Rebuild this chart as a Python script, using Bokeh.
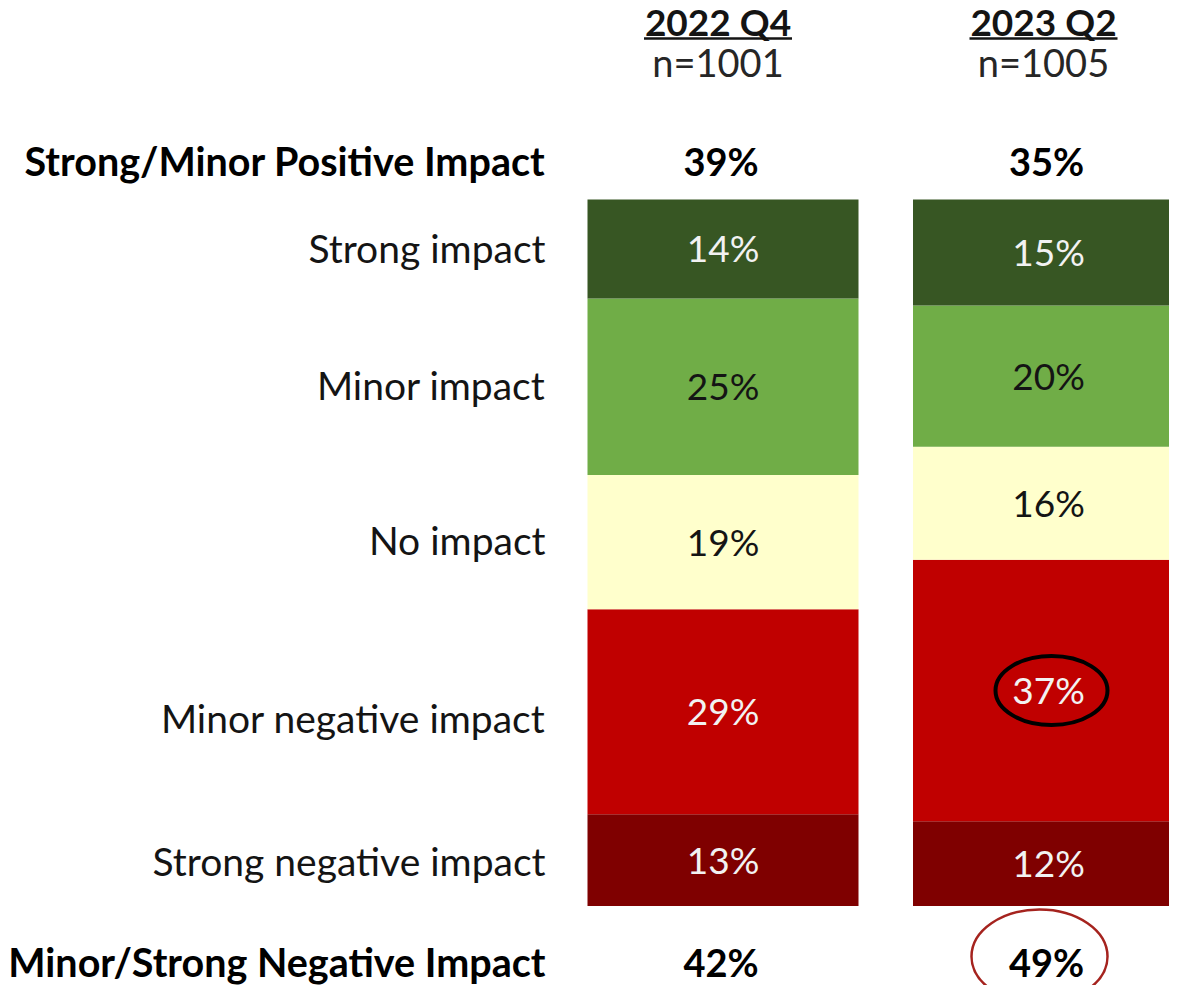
from bokeh.plotting import figure
from bokeh.models import Range1d, ColumnDataSource
from bokeh.embed import file_html
from bokeh.resources import INLINE
from bokeh.core.properties import value

# ---------------- data ----------------
periods = ["2022 Q4", "2023 Q2"]
sample_sizes = ["n=1001", "n=1005"]
categories = ["Strong impact", "Minor impact", "No impact",
              "Minor negative impact", "Strong negative impact"]
strong_impact = [14, 15]
minor_impact = [25, 20]
no_impact = [19, 16]
minor_negative = [29, 37]
strong_negative = [13, 12]
net_positive = [39, 35]
net_negative = [42, 49]
net_positive_label = "Strong/Minor Positive Impact"
net_negative_label = "Minor/Strong Negative Impact"

# ---------------- layout helpers ----------------
W, H = 1169, 985
PX_PER_PCT = 7.065
BAR_BOTTOM_PX = 905.5          # pixel (from top) of the 0 % line


def y_of(px):                  # pixel (from top) -> data y
    return (BAR_BOTTOM_PX - px) / PX_PER_PCT


col_x = [722.5, 1048.0]
head_x = [c - 5 for c in col_x]
bar_w = 271
FONT = value("Lato")
INK = "#141414"

p = figure(width=W, height=H, output_backend="svg", toolbar_location=None,
           x_range=Range1d(0, W), y_range=Range1d(y_of(H), y_of(0)),
           min_border=0, outline_line_color=None, background_fill_color="white")
p.axis.visible = False
p.grid.visible = False

# stacking order bottom -> top
series = [strong_negative, minor_negative, no_impact, minor_impact, strong_impact]
series_names = categories[::-1]
colors = ["#7F0000", "#C00000", "#FFFFCC", "#70AD47", "#375623"]
text_colors = ["#F2F2F2", "#F2F2F2", INK, INK, "#F2F2F2"]

bottoms = [0.0, 0.0]
mids = {}
for vals, name, col, tcol in zip(series, series_names, colors, text_colors):
    tops = [b + v for b, v in zip(bottoms, vals)]
    mid = [(b + t) / 2 for b, t in zip(bottoms, tops)]
    src = ColumnDataSource(dict(x=col_x, bottom=bottoms, top=tops,
                                mid=[m + 1.0 / PX_PER_PCT for m in mid],
                                lbl=[f"{v}%" for v in vals]))
    p.vbar(x="x", width=bar_w, bottom="bottom", top="top", source=src,
           fill_color=col, line_color=None)
    p.text(x="x", y="mid", text="lbl", source=src, text_font=FONT,
           text_font_size="37px", text_color=tcol, text_align="center",
           text_baseline="middle")
    mids[name] = mid
    bottoms = tops

# category labels (aligned with first column segments)
lab_x = 545
label_shift_px = [0, -1, -1, 7, 2]
p.text(x=[lab_x] * len(categories),
       y=[mids[c][0] - (s - 1) / PX_PER_PCT for c, s in zip(categories, label_shift_px)],
       text=categories, text_font=FONT, text_font_size="39px",
       text_color=INK, text_align="right", text_baseline="middle")

# header
p.text(x=head_x, y=[y_of(21)] * 2, text=periods, text_font=FONT,
       text_font_size="37px", text_font_style="bold", text_color=INK,
       text_align="center", text_baseline="middle")
p.segment(x0=[c - 74 for c in head_x], x1=[c + 74 for c in head_x],
          y0=[y_of(38)] * 2, y1=[y_of(38)] * 2, line_color=INK, line_width=2.5)
p.text(x=head_x, y=[y_of(61)] * 2, text=sample_sizes, text_font=FONT,
       text_font_size="38px", text_color="#262626",
       text_align="center", text_baseline="middle")

# net rows
for lbl, vals, py in [(net_positive_label, net_positive, 160),
                      (net_negative_label, net_negative, 961)]:
    p.text(x=[lab_x], y=[y_of(py)], text=[lbl], text_font=FONT,
           text_font_size="39.5px", text_font_style="bold", text_color="#000000",
           text_align="right", text_baseline="middle")
    p.text(x=[c - 2 for c in col_x], y=[y_of(py)] * 2, text=[f"{v}%" for v in vals],
           text_font=FONT, text_font_size="38px", text_font_style="bold",
           text_color="#000000", text_align="center", text_baseline="middle")

# highlight ellipses
p.ellipse(x=[col_x[1] + 3], y=[mids["Minor negative impact"][1]], width=[112], height=[69],
          width_units="screen", height_units="screen", fill_color=None,
          line_color="#000000", line_width=4)
p.ellipse(x=[col_x[1] - 9], y=[y_of(956)], width=[136], height=[94],
          width_units="screen", height_units="screen", fill_color=None,
          line_color="#A5231E", line_width=2.5)

open("out.html", "w").write(file_html(p, INLINE))
